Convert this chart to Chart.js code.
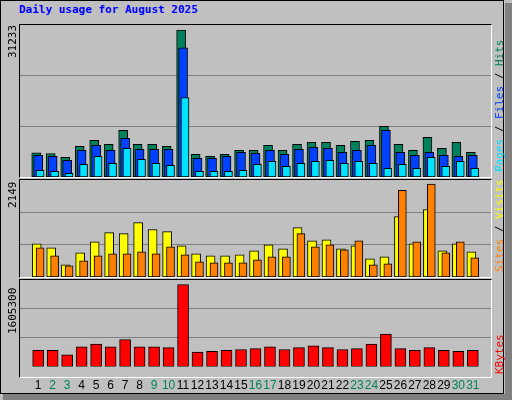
<!DOCTYPE html>
<html><head><meta charset="utf-8">
<script src="https://cdn.jsdelivr.net/npm/chart.js@4"></script>
<style>
body{margin:0;background:#c0c0c0;width:512px;height:400px;overflow:hidden;position:relative;font-family:"DejaVu Sans Mono",monospace}
.abs{position:absolute}
.panel{position:absolute;box-sizing:border-box;border-top:1px solid #000;border-left:1px solid #000;border-right:1px solid #fff;border-bottom:1px solid #fff;pointer-events:none}
.rot{position:absolute;transform-origin:left top;transform:rotate(-90deg);white-space:nowrap;font-size:11px}
</style></head><body>
<div class="abs" style="left:0;top:0;width:504px;height:394px;border:1px solid #000;box-sizing:border-box"></div>
<div class="abs" style="left:505px;top:3px;width:7px;height:397px;background:#808080"></div>
<div class="abs" style="left:3px;top:394px;width:509px;height:6px;background:#808080"></div>
<div class="abs" style="left:19px;top:3px;color:#0000ff;font-weight:bold;font-size:11px">Daily usage for August 2025</div>
<canvas id="c1" class="abs" style="left:20px;top:25px"></canvas>
<canvas id="c2" class="abs" style="left:20px;top:180px"></canvas>
<canvas id="c3" class="abs" style="left:20px;top:280px"></canvas>
<div class="panel" style="left:19px;top:24px;width:473px;height:154px"></div>
<div class="panel" style="left:19px;top:179px;width:473px;height:99px"></div>
<div class="panel" style="left:19px;top:279px;width:473px;height:99px"></div>
<div class="rot" style="left:6px;top:58px">31233</div>
<div class="rot" style="left:6px;top:208px">2149</div>
<div class="rot" style="left:6px;top:334px">1605300</div>
<div class="rot" style="left:493px;top:172px"><span style="color:#00e0ff">Pages</span> / <span style="color:#0040ff">Files</span> / <span style="color:#00805c">Hits</span></div>
<div class="rot" style="left:493px;top:272px"><span style="color:#ff8000">Sites</span> / <span style="color:#ffff00">Visits</span></div>
<div class="rot" style="left:493px;top:374px"><span style="color:#ff0000">KBytes</span></div>
<script>
const days=[1,2,3,4,5,6,7,8,9,10,11,12,13,14,15,16,17,18,19,20,21,22,23,24,25,26,27,28,29,30,31];
const weekend=[2,3,9,10,16,17,23,24,30,31];
const hits=[5160,4950,4170,6500,7770,6920,9890,6920,6920,6500,31233,4800,4380,4800,5650,5650,6710,5650,6920,7350,7350,6710,7560,7770,10740,6920,5650,8410,6080,7350,5230];
const files=[4590,4380,3530,5650,6710,5650,8200,5860,5860,5860,27420,3960,3960,4380,5230,5020,5650,4800,5860,6290,6080,5230,5650,6710,9890,5230,4590,5230,4590,4380,4590];
const pages=[1410,1200,780,2690,4380,2900,6080,3750,2900,2470,16890,1200,1200,1200,1410,2690,3320,2260,2900,3320,3530,2900,3320,2900,1840,2690,1840,4170,2260,3320,1840];
const sites=[768,675,279,559,815,1024,1001,1257,1094,1048,722,535,489,489,512,605,745,652,1141,838,861,652,722,419,466,1397,768,1560,605,768,582];
const visits=[675,489,256,372,489,535,535,582,535,698,512,349,326,326,326,396,466,466,1001,698,745,629,838,279,303,2002,815,2149,559,815,442];
const kbytes=[317500,317500,229300,388000,441000,388000,529200,388000,388000,370400,1605300,282200,299900,317500,335200,352800,388000,335200,370400,405700,370400,335200,352800,441000,635000,352800,317500,370400,317500,299900,317500];
const pxDay=14.97;
function ds(vals,color,offPx,w,order){return{data:vals.map((v,i)=>({x:days[i]+offPx/pxDay,y:v})),backgroundColor:color,borderColor:'#000',borderWidth:1,borderSkipped:false,barThickness:w,grouped:false,order:order};}
function opts(max,showX){
  return{responsive:false,animation:false,events:[],layout:{padding:0},
    plugins:{legend:{display:false},tooltip:{enabled:false}},
    scales:{
      x:{type:'linear',min:0.27,max:31.73,display:showX,grid:{display:false},border:{display:false},
        afterBuildTicks:a=>{a.ticks=days.map(v=>({value:v}));},
        ticks:{padding:4,autoSkip:false,maxRotation:0,font:{family:'Liberation Sans',size:12},
          color:c=>weekend.includes(c.tick.value)?'#00805c':'#000',callback:v=>String(v)}},
      y:{min:0,max:max,display:true,border:{display:false},ticks:{display:false},
        grid:{color:'#808080',drawTicks:false,lineWidth:1},
        afterBuildTicks:a=>{a.ticks=[{value:max/3},{value:2*max/3}];},
        afterFit:a=>{a.width=0;}}
    }};
}
function mk(id,w,h,datasets,max,showX){
  const c=document.getElementById(id);c.width=w;c.height=h;c.style.width=w+'px';c.style.height=h+'px';
  new Chart(c,{type:'bar',data:{datasets},options:opts(max,showX)});
}
mk('c1',471,152,[ds(hits,'#00805c',-2,9,3),ds(files,'#0040ff',0,9,2),ds(pages,'#00e0ff',2,8,1)],32295,false);
mk('c2',471,97,[ds(sites,'#ffff00',-1.5,9,2),ds(visits,'#ff8000',2,8,1)],2242,false);
mk('c3',471,117,[ds(kbytes,'#ff0000',0,11,1)],1693500,true);
</script></body></html>
